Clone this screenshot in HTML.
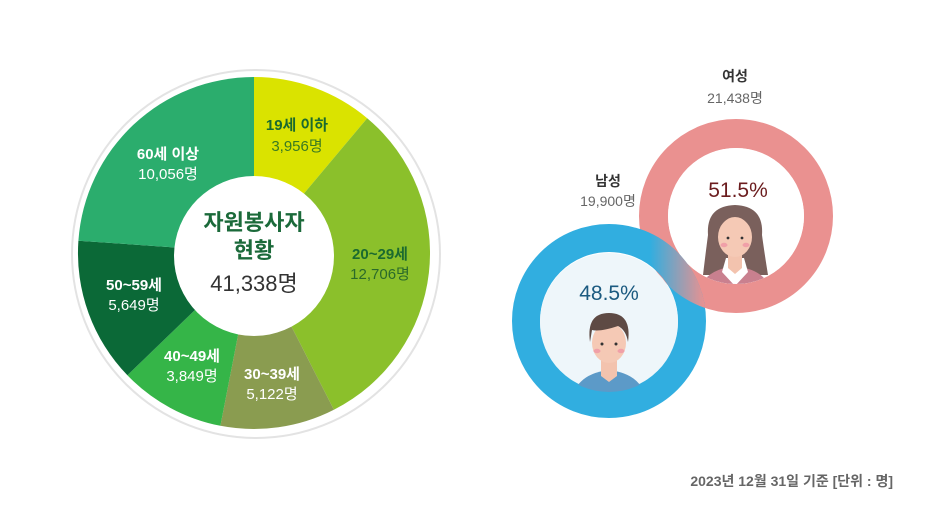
<!DOCTYPE html>
<html><head><meta charset="utf-8"><style>
html,body{margin:0;padding:0;background:#fff;}
body{width:940px;height:521px;overflow:hidden;font-family:"Liberation Sans","Noto Sans CJK KR",sans-serif;}
</style></head><body>
<svg width="940" height="521" viewBox="0 0 940 521" xmlns="http://www.w3.org/2000/svg" font-family="Liberation Sans, Noto Sans CJK KR, sans-serif">
<defs>
<linearGradient id="g1" x1="650" y1="0" x2="705" y2="0" gradientUnits="userSpaceOnUse">
<stop offset="0" stop-color="#31aee0"/><stop offset="1" stop-color="#ea9190"/></linearGradient>
<clipPath id="pinkc"><circle cx="736" cy="216" r="97"/></clipPath>
<clipPath id="fin"><circle cx="736" cy="216" r="68"/></clipPath>
<clipPath id="min"><circle cx="609" cy="322" r="70"/></clipPath>
</defs>
<rect width="940" height="521" fill="#fff"/>
<circle cx="256" cy="254" r="184" fill="#fff" stroke="#e3e3e3" stroke-width="2"/>
<path d="M254,253 L254,77 A176,176 0 0 1 367.2,118.2 Z" fill="#dae300"/>
<path d="M254,253 L367.2,118.2 A176,176 0 0 1 333.9,409.8 Z" fill="#8bc02b"/>
<path d="M254,253 L333.9,409.8 A176,176 0 0 1 220.4,425.8 Z" fill="#8a9c50"/>
<path d="M254,253 L220.4,425.8 A176,176 0 0 1 127.4,375.3 Z" fill="#35b548"/>
<path d="M254,253 L127.4,375.3 A176,176 0 0 1 78.4,240.7 Z" fill="#0b6937"/>
<path d="M254,253 L78.4,240.7 A176,176 0 0 1 254,77 Z" fill="#2bad6d"/>
<circle cx="254" cy="256" r="80" fill="#fff"/>
<g text-anchor="middle" font-size="15">
<text x="297" y="130" font-weight="bold" fill="#1b6a2f">19세 이하</text>
<text x="297" y="151" fill="#3a7a22">3,956명</text>
<text x="380" y="259" font-weight="bold" fill="#1b6a2f">20~29세</text>
<text x="380" y="279" fill="#2a6a2a">12,706명</text>
<text x="272" y="379" font-weight="bold" fill="#fff">30~39세</text>
<text x="272" y="399" fill="#fff">5,122명</text>
<text x="192" y="361" font-weight="bold" fill="#fff">40~49세</text>
<text x="192" y="381" fill="#fff">3,849명</text>
<text x="134" y="290" font-weight="bold" fill="#fff">50~59세</text>
<text x="134" y="310" fill="#fff">5,649명</text>
<text x="168" y="159" font-weight="bold" fill="#fff">60세 이상</text>
<text x="168" y="179" fill="#fff">10,056명</text>
<text x="254" y="230" font-size="22" font-weight="bold" fill="#1b6a3a">자원봉사자</text>
<text x="254" y="258" font-size="22" font-weight="bold" fill="#1b6a3a">현황</text>
<text x="254" y="291" font-size="22" fill="#333">41,338명</text>
</g>
<circle cx="736" cy="216" r="82.5" fill="none" stroke="#ea9190" stroke-width="29"/>
<circle cx="736" cy="216" r="68" fill="#fff"/>
<g clip-path="url(#fin)">
<path d="M703,275 Q706,250 708,235 Q706,206 735,205 Q764,206 762,235 Q764,250 768,275 Z" fill="#7a605c"/>
<path d="M700,290 Q704,270 735,266 Q766,270 770,290 Z" fill="#c9808f"/>
<path d="M726,258 L744,258 L748,272 L735,286 L722,272 Z" fill="#fff"/>
<path d="M728,252 L742,252 L742,268 L735,274 L728,268 Z" fill="#f3c3ae"/>
<ellipse cx="735" cy="237" rx="17" ry="20" fill="#f5c9b5"/>
<path d="M717,232 Q720,212 735,212 Q750,212 753,232 Q746,218 735,216 Q724,218 717,232 Z" fill="#7a605c"/>
<circle cx="728" cy="238" r="1.4" fill="#333"/><circle cx="742" cy="238" r="1.4" fill="#333"/>
<ellipse cx="724" cy="245" rx="3.5" ry="2.2" fill="#f0a0a8"/><ellipse cx="746" cy="245" rx="3.5" ry="2.2" fill="#f0a0a8"/>
</g>
<text x="738" y="197" text-anchor="middle" font-size="21" fill="#6b1c1e">51.5%</text>
<circle cx="609" cy="321" r="83" fill="none" stroke="#31aee0" stroke-width="28"/>
<circle cx="609" cy="321" r="83" fill="none" stroke="url(#g1)" stroke-width="28" clip-path="url(#pinkc)"/>
<circle cx="609" cy="322" r="69" fill="#eef6fa"/>
<g clip-path="url(#min)">
<path d="M572,400 Q576,374 609,370 Q642,374 646,400 Z" fill="#5c9ac8"/>
<path d="M601,358 L617,358 L617,376 L609,382 L601,376 Z" fill="#f3c3ae"/>
<ellipse cx="609" cy="343" rx="17" ry="20" fill="#f5c9b5"/>
<path d="M590,342 Q586,313 609,313 Q632,313 628,342 Q626,330 618,326 Q600,332 592,330 Z" fill="#5e4a44"/>
<circle cx="602" cy="344" r="1.5" fill="#333"/><circle cx="616" cy="344" r="1.5" fill="#333"/>
<ellipse cx="597" cy="351" rx="3.5" ry="2.2" fill="#f0a0a8"/><ellipse cx="621" cy="351" rx="3.5" ry="2.2" fill="#f0a0a8"/>
</g>
<text x="609" y="300" text-anchor="middle" font-size="21" fill="#1b5a80">48.5%</text>
<g text-anchor="middle" font-size="14">
<text x="735" y="81" font-weight="bold" fill="#333">여성</text>
<text x="735" y="103" fill="#666">21,438명</text>
<text x="608" y="186" font-weight="bold" fill="#333">남성</text>
<text x="608" y="206" fill="#666">19,900명</text>
</g>
<text x="893" y="486" text-anchor="end" font-size="14" font-weight="bold" fill="#666">2023년 12월 31일 기준  [단위 : 명]</text>
</svg>
</body></html>
